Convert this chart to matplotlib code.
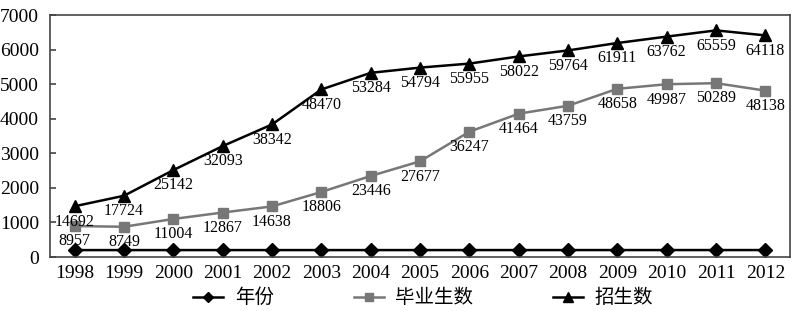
import matplotlib
matplotlib.use("Agg")
import matplotlib.pyplot as plt

years = [1998, 1999, 2000, 2001, 2002, 2003, 2004, 2005,
         2006, 2007, 2008, 2009, 2010, 2011, 2012]
graduates = [8957, 8749, 11004, 12867, 14638, 18806, 23446, 27677,
             36247, 41464, 43759, 48658, 49987, 50289, 48138]
enrolled = [14692, 17724, 25142, 32093, 38342, 48470, 53284, 54794,
            55955, 58022, 59764, 61911, 63762, 65559, 64118]

serif = "Liberation Serif"
cjk = ["Noto Sans CJK SC", "DejaVu Sans"]

fig = plt.figure(figsize=(8, 3.11), dpi=100)
ax = fig.add_axes([0.0625, 0.1736, 0.925, 0.778])

x = list(range(len(years)))
# values are drawn at one tenth of their size, as in the source figure
ax.plot(x, [y / 10 for y in years], color="black", lw=1.8,
        marker="D", ms=7, label="年份")
ax.plot(x, [v / 10 for v in graduates], color="#777777", lw=1.8,
        marker="s", ms=7, label="毕业生数")
ax.plot(x, [v / 10 for v in enrolled], color="black", lw=1.8,
        marker="^", ms=9, label="招生数")

for i in x:
    ax.annotate(str(graduates[i]), (i, graduates[i] / 10), xytext=(0, -11),
                textcoords="offset points", ha="center", va="center",
                family=serif, fontsize=11.5)
    ax.annotate(str(enrolled[i]), (i, enrolled[i] / 10), xytext=(0, -11),
                textcoords="offset points", ha="center", va="center",
                family=serif, fontsize=11.5)

ax.set_xlim(-0.5, len(years) - 0.5)
ax.set_ylim(0, 7000)
ax.set_yticks(range(0, 7001, 1000))
ax.set_xticks(x)
ax.set_xticklabels([str(y) for y in years])
ax.tick_params(axis="y", direction="in", length=4, width=1.2,
               color="#444444", labelsize=14, pad=8)
ax.tick_params(axis="x", length=0, labelsize=14, pad=6)
for lab in ax.get_xticklabels() + ax.get_yticklabels():
    lab.set_family(serif)
for s in ax.spines.values():
    s.set_color("#444444")
    s.set_linewidth(1.2)

leg = fig.legend(loc="center", bbox_to_anchor=(0.529, 0.042), ncol=3,
                 frameon=False, prop={"family": cjk, "size": 14},
                 columnspacing=4.1, handlelength=1.55, handletextpad=0.6,
                 markerscale=0.75)

fig.savefig("out.png", dpi=100)
